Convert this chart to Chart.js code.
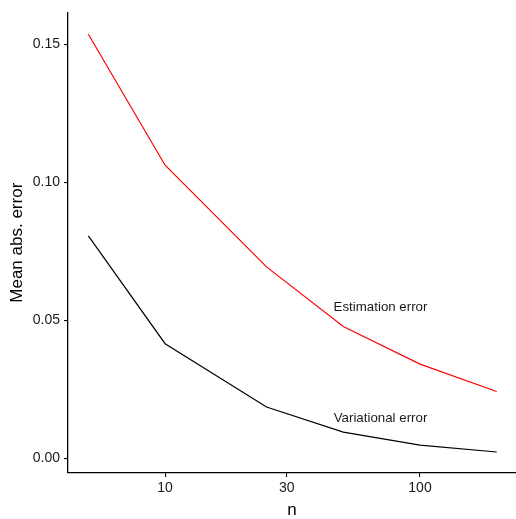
<!DOCTYPE html>
<html>
<head>
<meta charset="utf-8">
<script src="https://cdn.jsdelivr.net/npm/chart.js@4"></script>
<style>
html,body{margin:0;padding:0;background:#fff;}
#wrap{width:516px;height:519px;}
</style>
</head>
<body>
<div id="wrap"><canvas id="c" width="516" height="519"></canvas></div>
<script>
const nValues = [5, 10, 25, 50, 100, 200];
const estimationError = [0.1536, 0.1062, 0.0694, 0.0478, 0.0342, 0.0243];
const variationalError = [0.0806, 0.0416, 0.0187, 0.0096, 0.0049, 0.0024];
const xTicks = [10, 30, 100];
const yTicks = [0, 0.05, 0.10, 0.15];
const labelTexts = ["Estimation error", "Variational error"];
const labelX = [70, 70];
const labelY = [0.0548, 0.0147];

const FONT = "'Liberation Sans', Arial, Helvetica, sans-serif";

const textLabels = {
  id: 'textLabels',
  afterDatasetsDraw(chart) {
    const {ctx, scales} = chart;
    ctx.save();
    ctx.font = '13.3px ' + FONT;
    ctx.fillStyle = '#1a1a1a';
    ctx.textAlign = 'center';
    ctx.textBaseline = 'middle';
    labelTexts.forEach((t, i) => {
      ctx.fillText(t, scales.x.getPixelForValue(labelX[i]), scales.y.getPixelForValue(labelY[i]));
    });
    ctx.restore();
  }
};

new Chart(document.getElementById('c'), {
  type: 'line',
  data: {
    datasets: [
      {
        label: 'Estimation error',
        data: nValues.map((n, i) => ({x: n, y: estimationError[i]})),
        borderColor: '#ff0000',
        borderWidth: 1.2,
        pointRadius: 0,
        fill: false,
        tension: 0
      },
      {
        label: 'Variational error',
        data: nValues.map((n, i) => ({x: n, y: variationalError[i]})),
        borderColor: '#000000',
        borderWidth: 1.2,
        pointRadius: 0,
        fill: false,
        tension: 0
      }
    ]
  },
  options: {
    responsive: false,
    animation: false,
    layout: {padding: {top: 9, right: 0, bottom: 0, left: 0}},
    plugins: {legend: {display: false}, tooltip: {enabled: false}},
    scales: {
      x: {
        type: 'logarithmic',
        min: 4.16,
        max: 238,
        afterBuildTicks(scale) { scale.ticks = xTicks.map(v => ({value: v})); },
        afterFit(scale) { scale.height = 46; },
        grid: {drawOnChartArea: false, drawTicks: true, tickLength: 4, color: '#000', lineWidth: 1.1},
        border: {display: true, color: '#000', width: 1.3},
        ticks: {
          color: '#1a1a1a',
          font: {family: FONT, size: 14},
          padding: 3,
          maxRotation: 0,
          autoSkip: false,
          callback: (v) => String(v)
        },
        title: {
          display: true,
          text: 'n',
          color: '#000',
          font: {family: FONT, size: 17, lineHeight: 1},
          padding: {top: 0, bottom: 0}
        }
      },
      y: {
        type: 'linear',
        min: -0.0052,
        max: 0.1615,
        afterBuildTicks(scale) { scale.ticks = yTicks.map(v => ({value: v})); },
        afterFit(scale) { scale.width = 68; },
        grid: {drawOnChartArea: false, drawTicks: true, tickLength: 4, color: '#000', lineWidth: 1.1},
        border: {display: true, color: '#000', width: 1.3},
        ticks: {
          color: '#1a1a1a',
          font: {family: FONT, size: 14},
          padding: 4,
          callback: (v) => Number(v).toFixed(2)
        },
        title: {
          display: true,
          text: 'Mean abs. error',
          color: '#000',
          font: {family: FONT, size: 17, lineHeight: 1},
          padding: {top: 9, bottom: 0}
        }
      }
    }
  },
  plugins: [textLabels]
});
</script>
</body>
</html>
